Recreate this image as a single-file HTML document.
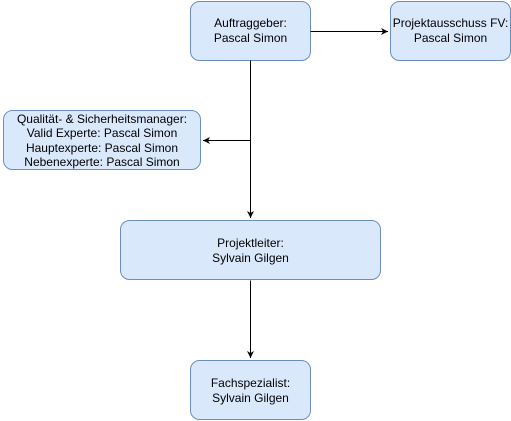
<!DOCTYPE html>
<html><head><style>body{margin:0;background:#fff}svg{display:block}text{font-family:"Liberation Sans",sans-serif;font-size:12px;fill:#000;text-anchor:middle}</style></head>
<body>
<svg width="511" height="421" xmlns="http://www.w3.org/2000/svg">
<defs><marker id="a" markerWidth="8" markerHeight="8" refX="7" refY="4" orient="auto" markerUnits="userSpaceOnUse"><path d="M0,0.5 L7,4 L0,7.5 L2,4 Z" fill="#000"/></marker></defs>
<g fill="#dae8fc" stroke="#6c8ebf" stroke-width="1">
<rect x="190.5" y="1.5" width="120" height="59" rx="9"/>
<rect x="390.5" y="1.5" width="120" height="59" rx="9"/>
<rect x="3.5" y="110.5" width="197" height="59" rx="9"/>
<rect x="120.5" y="220.5" width="260" height="59" rx="9"/>
<rect x="190.5" y="360.5" width="120" height="59" rx="9"/>
</g>
<g stroke="#000" stroke-width="1" fill="none">
<path d="M310.5 31.5 H388" marker-end="url(#a)"/>
<path d="M250.5 60.5 V218" marker-end="url(#a)"/>
<path d="M250.5 140.5 H203" marker-end="url(#a)"/>
<path d="M250.5 280.5 V358" marker-end="url(#a)"/>
</g>
<text x="250.5" y="27">Auftraggeber:</text><text x="250.5" y="42">Pascal Simon</text>
<text x="450.5" y="27">Projektausschuss FV:</text><text x="450.5" y="42">Pascal Simon</text>
<text x="102" y="123">Qualität- &amp; Sicherheitsmanager:</text>
<text x="102" y="137">Valid Experte: Pascal Simon</text>
<text x="102" y="152">Hauptexperte: Pascal Simon</text>
<text x="102" y="166">Nebenexperte: Pascal Simon</text>
<text x="250.5" y="247">Projektleiter:</text><text x="250.5" y="262">Sylvain Gilgen</text>
<text x="250.5" y="387">Fachspezialist:</text><text x="250.5" y="402">Sylvain Gilgen</text>
</svg>
</body></html>
